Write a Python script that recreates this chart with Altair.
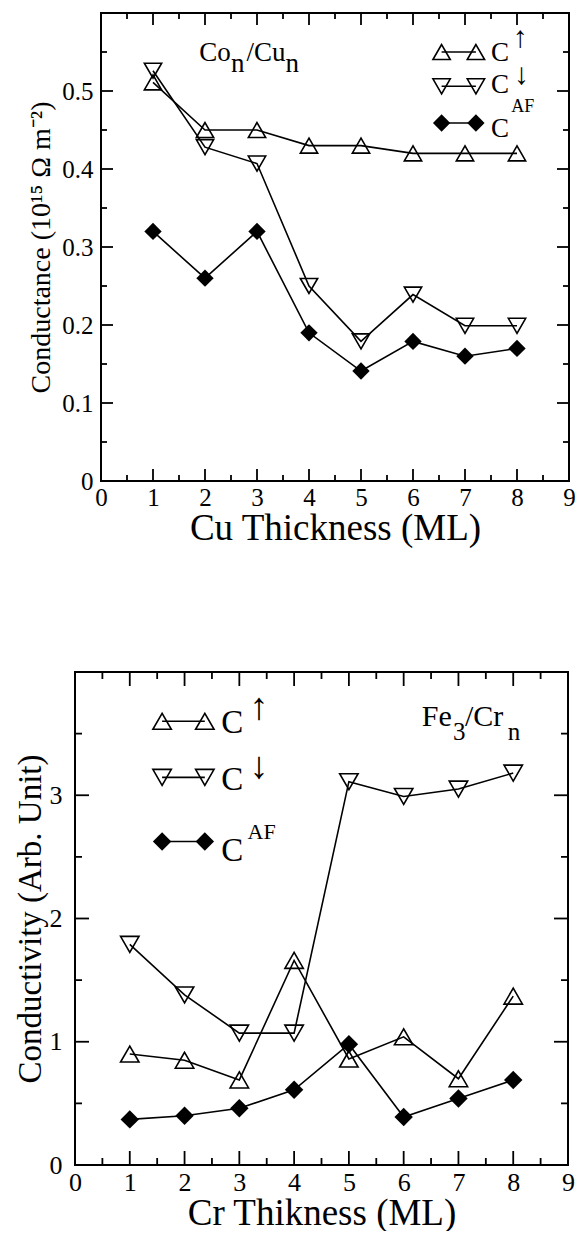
import altair as alt
import pandas as pd

FONT = "Liberation Serif"

# ---------------- data ----------------
thickness = [1, 2, 3, 4, 5, 6, 7, 8]

# Co_n/Cu_n  (conductance, 10^15 Ohm^-1 m^-2)
cu_up = [0.511, 0.45, 0.45, 0.43, 0.43, 0.42, 0.42, 0.42]
cu_down = [0.526, 0.428, 0.407, 0.25, 0.179, 0.239, 0.199, 0.199]
cu_af = [0.32, 0.26, 0.32, 0.19, 0.141, 0.179, 0.16, 0.17]

# Fe_3/Cr_n  (conductivity, arb. unit)
cr_up = [0.90, 0.85, 0.69, 1.66, 0.86, 1.04, 0.70, 1.37]
cr_down = [1.79, 1.38, 1.07, 1.07, 3.11, 2.99, 3.05, 3.18]
cr_af = [0.37, 0.40, 0.46, 0.61, 0.98, 0.39, 0.54, 0.69]

x_major = [0, 1, 2, 3, 4, 5, 6, 7, 8, 9]
x_minor = [0.5, 1.5, 2.5, 3.5, 4.5, 5.5, 6.5, 7.5, 8.5]

top_y_major = [0, 0.1, 0.2, 0.3, 0.4, 0.5, 0.6]
top_y_minor = [0.05, 0.15, 0.25, 0.35, 0.45, 0.55]
top_y_labels = [0, 0.1, 0.2, 0.3, 0.4, 0.5]

bot_y_major = [0, 1, 2, 3, 4]
bot_y_minor = [0.5, 1.5, 2.5, 3.5]
bot_y_labels = [0, 1, 2, 3]

series = ["up", "down", "af"]
shapes = {"up": "triangle-up", "down": "triangle-down", "af": "diamond"}
filled = {"up": False, "down": False, "af": True}


def panel(up, down, af, y_max, y_major, y_minor, y_labels, y_fmt, W, H, x_off,
          x_title, y_title, x_title_size, y_title_size, label_size,
          x_title_pad, y_title_pad, y_label_pad, x_label_pad,
          msize, tick_major, tick_minor,
          leg_x, leg_y, texts):
    xs = alt.Scale(domain=[0, 9], range=[x_off, x_off + W], nice=False, zero=False)
    ys = alt.Scale(domain=[0, y_max], nice=False, zero=False)

    xaxis = alt.Axis(values=x_major, title=x_title, ticks=False, tickSize=0, domain=False,
                     grid=False, labelFont=FONT, labelFontSize=label_size, labelColor="black",
                     labelPadding=x_label_pad, labelFlush=False, labelOverlap=False,
                     titleFont=FONT, titleFontSize=x_title_size, titleFontWeight="normal",
                     titleColor="black", titlePadding=x_title_pad)
    yaxis = alt.Axis(values=y_labels, format=y_fmt, title=y_title, ticks=False, tickSize=0,
                     domain=False, grid=False, labelFont=FONT, labelFontSize=label_size,
                     labelColor="black", labelPadding=y_label_pad, labelFlush=False,
                     labelOverlap=False, titleFont=FONT, titleFontSize=y_title_size,
                     titleFontWeight="normal", titleColor="black", titlePadding=y_title_pad,
                     offset=-x_off)

    def X(f):
        return alt.X(f, scale=xs, axis=xaxis)

    def Y(f):
        return alt.Y(f, scale=ys, axis=yaxis)

    df = pd.DataFrame({
        "x": thickness * 3,
        "y": up + down + af,
        "s": ["up"] * 8 + ["down"] * 8 + ["af"] * 8,
    })

    layers = []
    # plot frame (spans the axis domains)
    fdf = pd.DataFrame({"x": [0], "x2": [9], "y": [0], "y2": [y_max]})
    layers.append(
        alt.Chart(fdf).mark_rect(fillOpacity=0, stroke="black", strokeWidth=2).encode(
            x=X("x:Q"), x2="x2:Q", y=Y("y:Q"), y2="y2:Q")
    )
    layers.append(
        alt.Chart(df).mark_line(color="black", strokeWidth=1.6).encode(
            x=X("x:Q"), y=Y("y:Q"), detail="s:N")
    )
    for s in series:
        layers.append(
            alt.Chart(df).transform_filter(alt.datum.s == s).mark_point(
                shape=shapes[s], filled=filled[s], size=msize, color="black",
                strokeWidth=1.6, opacity=1,
            ).encode(x=X("x:Q"), y=Y("y:Q"))
        )

    # legend samples
    ldf = pd.DataFrame({
        "x": [leg_x[0], leg_x[1]] * 3,
        "y": [leg_y[0]] * 2 + [leg_y[1]] * 2 + [leg_y[2]] * 2,
        "s": ["up"] * 2 + ["down"] * 2 + ["af"] * 2,
    })
    layers.append(
        alt.Chart(ldf).mark_line(color="black", strokeWidth=1.6).encode(
            x=X("x:Q"), y=Y("y:Q"), detail="s:N")
    )
    for s in series:
        layers.append(
            alt.Chart(ldf).transform_filter(alt.datum.s == s).mark_point(
                shape=shapes[s], filled=filled[s], size=msize, color="black",
                strokeWidth=1.6, opacity=1,
            ).encode(x=X("x:Q"), y=Y("y:Q"))
        )

    # text annotations
    tdf = pd.DataFrame(texts, columns=["x", "y", "t", "fs"])
    layers.append(
        alt.Chart(tdf).mark_text(font=FONT, align="left", baseline="alphabetic",
                                 color="black").encode(
            x=X("x:Q"), y=Y("y:Q"), text="t:N",
            size=alt.Size("fs:Q", scale=None, legend=None),
        )
    )

    # inward ticks on all four sides
    def rules(vals, orient, ln):
        d = pd.DataFrame({"x": vals, "y": vals})
        base = alt.Chart(d).mark_rule(color="black", strokeWidth=1.8)
        if orient == "bottom":
            return base.encode(x=X("x:Q"), y=alt.value(H), y2=alt.value(H - ln))
        if orient == "top":
            return base.encode(x=X("x:Q"), y=alt.value(0), y2=alt.value(ln))
        if orient == "left":
            return base.encode(y=Y("y:Q"), x=alt.value(x_off), x2=alt.value(x_off + ln))
        return base.encode(y=Y("y:Q"), x=alt.value(x_off + W), x2=alt.value(x_off + W - ln))

    for o in ["bottom", "top"]:
        layers.append(rules(x_major, o, tick_major))
        layers.append(rules(x_minor, o, tick_minor))
    for o in ["left", "right"]:
        layers.append(rules(y_major, o, tick_major))
        layers.append(rules(y_minor, o, tick_minor))

    return alt.layer(*layers).properties(width=x_off + W, height=H)


top_texts = [
    [1.89, 0.539, "Co", 27],
    [2.50, 0.524, "n", 27],
    [2.80, 0.539, "/Cu", 27],
    [3.55, 0.524, "n", 27],
    [7.50, 0.539, "C", 27],
    [7.92, 0.557, "↑", 30],
    [7.50, 0.497, "C", 27],
    [7.94, 0.509, "↓", 30],
    [7.50, 0.441, "C", 27],
    [7.89, 0.473, "AF", 18],
]

bot_texts = [
    [6.33, 3.56, "Fe", 30],
    [6.90, 3.45, "3", 25],
    [7.12, 3.56, "/Cr", 30],
    [7.90, 3.45, "n", 25],
    [2.67, 3.507, "C", 33],
    [3.18, 3.62, "↑", 38],
    [2.67, 3.04, "C", 33],
    [3.18, 3.14, "↓", 38],
    [2.67, 2.466, "C", 33],
    [3.15, 2.644, "AF", 22],
]

top = panel(cu_up, cu_down, cu_af, 0.6, top_y_major, top_y_minor, top_y_labels, "~g",
            468, 468, 26, "Cu Thickness (ML)", "Conductance (10¹⁵ Ω m⁻²)", 37, 28, 25,
            0, 6, 8, 4, 300, 12, 6,
            [6.55, 7.21], [0.55, 0.506, 0.459], top_texts)

bottom = panel(cr_up, cr_down, cr_af, 4, bot_y_major, bot_y_minor, bot_y_labels, "d",
               493, 493, 0, "Cr Thikness (ML)", "Conductivity (Arb. Unit)", 37, 33, 26,
               0, 2, 13, 4, 340, 14, 7,
               [1.59, 2.37], [3.60, 3.145, 2.625], bot_texts)

chart = alt.vconcat(top, bottom, spacing=125).properties(
    padding={"left": 14, "top": 12, "right": 0, "bottom": 0}
).configure_view(stroke="transparent", strokeWidth=0)

chart.save("out.html", embed_options={"renderer": "svg", "actions": False})
